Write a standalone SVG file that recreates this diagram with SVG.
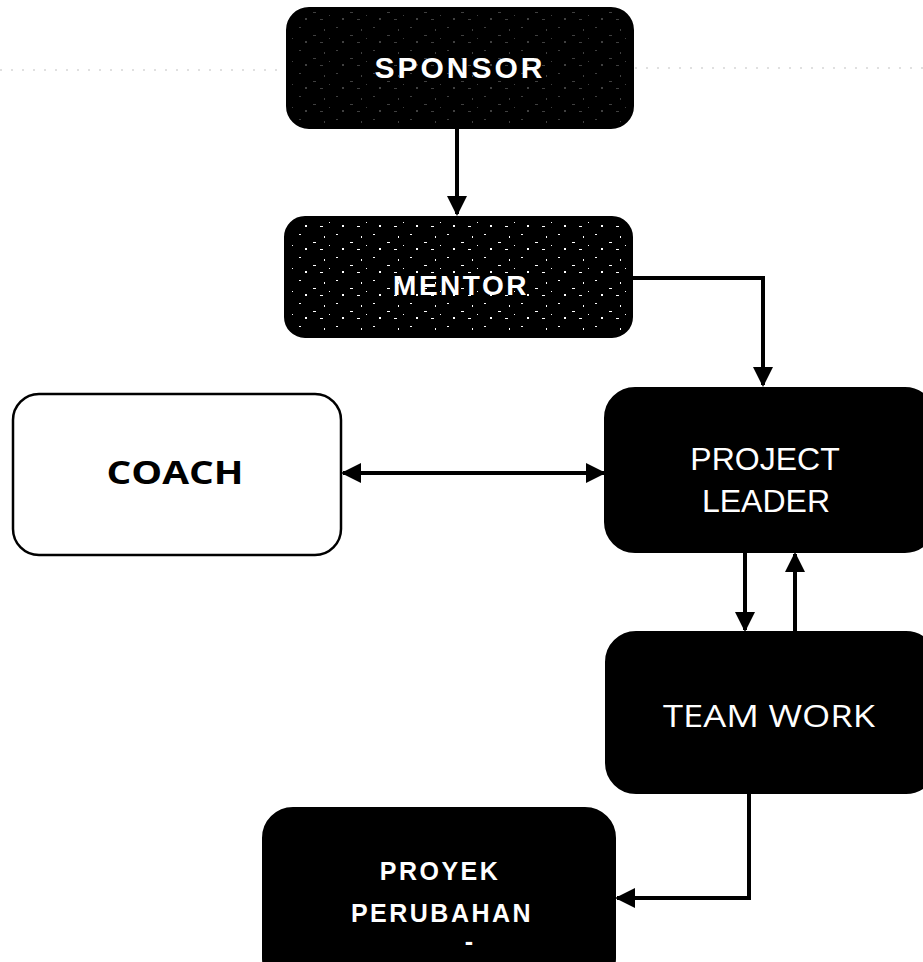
<svg xmlns="http://www.w3.org/2000/svg" width="923" height="962" viewBox="0 0 923 962">
<defs>
<style>
.box{fill:#000;stroke:#000;stroke-width:2}
.wbox{fill:#fff;stroke:#000;stroke-width:2.5}
.con{fill:none;stroke:#000;stroke-width:4}
.wt{fill:#fff;text-anchor:middle}
.ar{font-family:"Liberation Sans",Arial,sans-serif}
</style>
<marker id="ah" viewBox="0 0 10 10" refX="9" refY="5" markerWidth="5" markerHeight="5" orient="auto-start-reverse" markerUnits="strokeWidth">
<path d="M0,0 L10,5 L0,10 z" fill="#000"/>
</marker>
<pattern id="speck" width="37" height="23" patternUnits="userSpaceOnUse">
<rect x="3" y="4" width="2" height="1" fill="#fff"/>
<rect x="17" y="12" width="3" height="1" fill="#fff"/>
<rect x="28" y="6" width="1" height="2" fill="#fff"/>
<rect x="9" y="18" width="2" height="2" fill="#fff"/>
<rect x="24" y="19" width="3" height="1" fill="#fff"/>
<rect x="33" y="15" width="1" height="1" fill="#fff"/>
</pattern>
</defs>
<g id="noise-line" stroke="#999" stroke-width="1" stroke-dasharray="2 9" opacity="0.6">
<line x1="0" y1="70" x2="285" y2="70"/>
<line x1="635" y1="68" x2="923" y2="68"/>
</g>
<g id="connectors">
<line class="con" x1="457" y1="129" x2="457" y2="214" marker-end="url(#ah)"/>
<polyline class="con" points="633,278 763,278 763,385" marker-end="url(#ah)"/>
<line class="con" x1="343" y1="473" x2="604" y2="473" marker-start="url(#ah)" marker-end="url(#ah)"/>
<line class="con" x1="745" y1="553" x2="745" y2="630" marker-end="url(#ah)"/>
<line class="con" x1="795" y1="632" x2="795" y2="554" marker-end="url(#ah)"/>
<polyline class="con" points="749,794 749,898 617,898" marker-end="url(#ah)"/>
</g>
<g id="sponsor">
<rect class="box" x="287" y="8" width="346" height="120" rx="22"/>
<rect x="290" y="11" width="340" height="114" rx="20" fill="url(#speck)" opacity="0.25"/>
<text class="wt ar" x="460" y="78" font-size="30" font-weight="bold" letter-spacing="3">SPONSOR</text>
</g>
<g id="mentor">
<rect class="box" x="285" y="217" width="347" height="120" rx="20"/>
<rect x="288" y="220" width="341" height="114" rx="18" fill="url(#speck)"/>
<text class="wt ar" x="461" y="295" font-size="28" font-weight="bold" letter-spacing="2.5">MENTOR</text>
</g>
<g id="coach">
<rect class="wbox" x="13" y="394" width="328" height="161" rx="26"/>
<text x="175" y="484" font-family="'Open Sans','Noto Sans',sans-serif" font-size="33" font-weight="bold" text-anchor="middle" textLength="137" lengthAdjust="spacingAndGlyphs">COACH</text>
</g>
<g id="project-leader">
<rect class="box" x="605" y="388" width="330" height="164" rx="30"/>
<text class="wt ar" x="765" y="470" font-size="32">PROJECT</text>
<text class="wt ar" x="766" y="512" font-size="32">LEADER</text>
</g>
<g id="team-work">
<rect class="box" x="606" y="632" width="330" height="161" rx="30"/>
<text class="wt" x="769" y="727" font-family="'Open Sans','Noto Sans',sans-serif" font-size="31" textLength="212" lengthAdjust="spacingAndGlyphs">TEAM WORK</text>
</g>
<g id="proyek-perubahan">
<rect class="box" x="263" y="808" width="352" height="180" rx="30"/>
<text class="wt ar" x="440" y="880" font-size="25" font-weight="bold" letter-spacing="2.5">PROYEK</text>
<text class="wt ar" x="442" y="922" font-size="25" font-weight="bold" letter-spacing="2.5">PERUBAHAN</text>
<text class="wt ar" x="469" y="950" font-size="25" font-weight="bold">-</text>
</g>
</svg>
